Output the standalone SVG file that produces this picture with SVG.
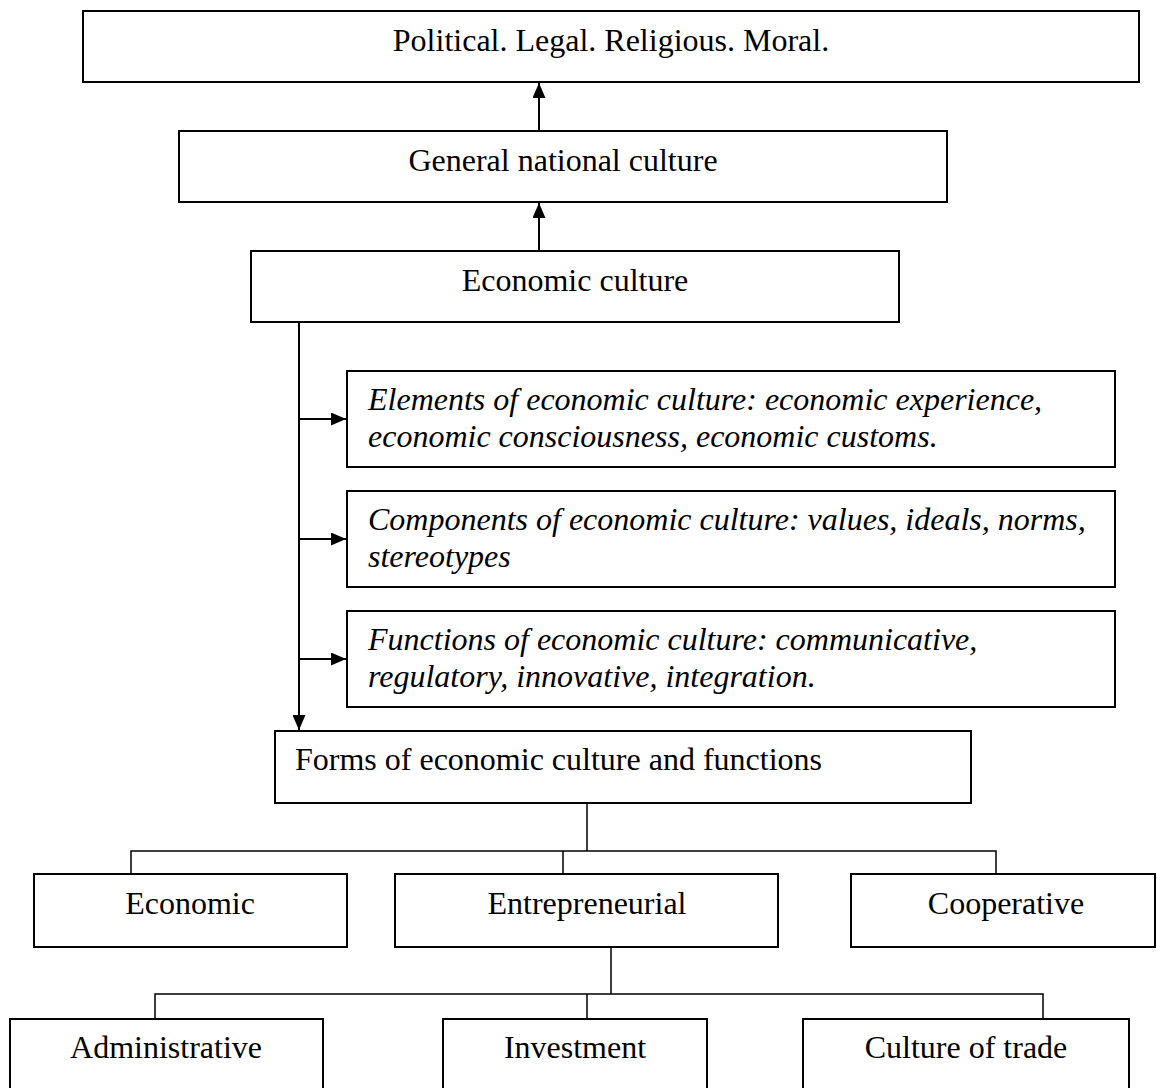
<svg xmlns="http://www.w3.org/2000/svg" width="1157" height="1088" viewBox="0 0 1157 1088">
<style>
.box{fill:#fff;stroke:#000;stroke-width:2}
.t{font-family:"Liberation Serif","Times New Roman",serif;font-size:32px;fill:#000}
.c{text-anchor:middle}
.i{font-style:italic}
.ln{fill:none;stroke:#000;stroke-width:2}
.tr{fill:none;stroke:#000;stroke-width:1.5}
</style>
<defs>
<marker id="ah" viewBox="0 0 15 13" refX="15" refY="6.5" markerWidth="15" markerHeight="13" markerUnits="userSpaceOnUse" orient="auto">
<path d="M0,0 L15,6.5 L0,13 z" fill="#000"/>
</marker>
</defs>
<rect width="1157" height="1088" fill="#fff"/>
<g id="connectors">
<line class="ln" x1="539" y1="131" x2="539" y2="83" marker-end="url(#ah)"/>
<line class="ln" x1="539" y1="251" x2="539" y2="203" marker-end="url(#ah)"/>
<line class="ln" x1="299" y1="322" x2="299" y2="730" marker-end="url(#ah)"/>
<line class="ln" x1="299" y1="419" x2="346" y2="419" marker-end="url(#ah)"/>
<line class="ln" x1="299" y1="539" x2="346" y2="539" marker-end="url(#ah)"/>
<line class="ln" x1="299" y1="659" x2="346" y2="659" marker-end="url(#ah)"/>
<path class="tr" d="M587,803 V851 M131,874 V851 H996 V874 M563,851 V874"/>
<path class="tr" d="M611,947 V994 M155,1019 V994 H1043 V1019 M587,994 V1019"/>
</g>
<g id="n-top">
<rect class="box" x="83" y="11" width="1056" height="71"/>
<text class="t c" x="611" y="51">Political. Legal. Religious. Moral.</text>
</g>
<g id="n-general">
<rect class="box" x="179" y="131" width="768" height="71"/>
<text class="t c" x="563" y="171">General national culture</text>
</g>
<g id="n-economic-culture">
<rect class="box" x="251" y="251" width="648" height="71"/>
<text class="t c" x="575" y="291">Economic culture</text>
</g>
<g id="n-elements">
<rect class="box" x="347" y="371" width="768" height="96"/>
<text class="t i" x="368" y="410">Elements of economic culture: economic experience,</text>
<text class="t i" x="368" y="447">economic consciousness, economic customs.</text>
</g>
<g id="n-components">
<rect class="box" x="347" y="491" width="768" height="96"/>
<text class="t i" x="368" y="530">Components of economic culture: values, ideals, norms,</text>
<text class="t i" x="368" y="567">stereotypes</text>
</g>
<g id="n-functions">
<rect class="box" x="347" y="611" width="768" height="96"/>
<text class="t i" x="368" y="650">Functions of economic culture: communicative,</text>
<text class="t i" x="368" y="687">regulatory, innovative, integration.</text>
</g>
<g id="n-forms">
<rect class="box" x="275" y="731" width="696" height="72"/>
<text class="t" x="295" y="770">Forms of economic culture and functions</text>
</g>
<g id="n-economic">
<rect class="box" x="34" y="874" width="313" height="73"/>
<text class="t c" x="190" y="914">Economic</text>
</g>
<g id="n-entrepreneurial">
<rect class="box" x="395" y="874" width="383" height="73"/>
<text class="t c" x="587" y="914">Entrepreneurial</text>
</g>
<g id="n-cooperative">
<rect class="box" x="851" y="874" width="304" height="73"/>
<text class="t c" x="1006" y="914">Cooperative</text>
</g>
<g id="n-administrative">
<rect class="box" x="10" y="1019" width="313" height="90"/>
<text class="t c" x="166" y="1058">Administrative</text>
</g>
<g id="n-investment">
<rect class="box" x="443" y="1019" width="264" height="90"/>
<text class="t c" x="575" y="1058">Investment</text>
</g>
<g id="n-trade">
<rect class="box" x="803" y="1019" width="326" height="90"/>
<text class="t c" x="966" y="1058">Culture of trade</text>
</g>
</svg>
